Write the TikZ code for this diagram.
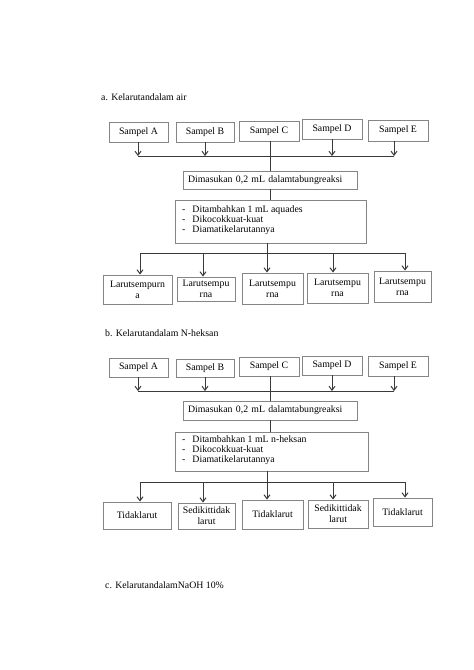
\documentclass[tikz,border=0pt]{standalone}
\usepackage{fontspec}
\setmainfont{Liberation Serif}
\usetikzlibrary{arrows.meta}
\definecolor{boxgray}{HTML}{858585}
\definecolor{linegray}{HTML}{3A3A3A}
\tikzset{
  sbox/.style={draw=boxgray, line width=0.9pt, inner sep=0pt, align=center, font=\fontsize{9.8}{11.2}\selectfont},
  lbox/.style={draw=boxgray, line width=0.9pt, inner xsep=5pt, inner ysep=0pt, align=left, font=\fontsize{9.8}{11.2}\selectfont},
  txt/.style={inner sep=0pt, font=\fontsize{9.8}{11.2}\selectfont},
  conn/.style={draw=linegray, line width=1pt},
  arr/.style={conn, -{Straight Barb[length=4pt,width=6pt]}},
}
\newcommand{\bx}[6]{% name, x1, y1, x2, y2, text
  \node[sbox, minimum width={#4-#2}, minimum height={#5-#3}] (#1) at ({(#2+#4)/2},{(#3+#5)/2}) {#6};}
\begin{document}
\begin{tikzpicture}[x=1pt,y=-1pt]
\useasboundingbox (0,0) rectangle (474,670);

% ---------------- Section a ----------------
\node[txt, anchor=west] (ta) at (101,97) {a. Kelarutandalam air};

\bx{aA}{109}{122}{168}{142}{Sampel A}
\bx{aB}{176}{122}{234}{142}{Sampel B}
\bx{aC}{239}{121}{299}{141}{Sampel C}
\bx{aD}{302}{119}{362}{139}{Sampel D}
\bx{aE}{368}{120}{428}{141}{Sampel E}

\node[lbox, minimum width=174pt, text width=164pt, minimum height=18pt] (aM) at (270,180) {Dimasukan 0,2 mL dalamtabungreaksi};
\node[draw=boxgray, line width=0.9pt, minimum width=191pt, minimum height=43pt, inner sep=0pt] (aS) at (270.5,221.5) {};
\node[txt, anchor=west, align=left] (aSt) at (182,220) {%
  \begin{tabular}{@{}l@{\hspace{7pt}}l@{}}
  - & Ditambahkan 1 mL aquades\\[-1.4pt]
  - & Dikocokkuat-kuat\\[-1.4pt]
  - & Diamatikelarutannya
  \end{tabular}};

\coordinate (aL1) at (138,156);
\coordinate (aL2) at (394,156);
\draw[conn] (aL1) -- (aL2);
\draw[arr] (aA.south -| aL1) -- (aL1);
\draw[arr] (aB.south) -- (aB.south |- aL1);
\draw[arr] (aD.south) -- (aD.south |- aL1);
\draw[arr] (aE.south -| aL2) -- (aL2);
\draw[conn] (aC.south -| aM.north) -- (aM.north);
\draw[conn] (aM.south) -- (aS.north -| aM.south);

\bx{a1}{103}{275}{172}{304}{Larutsempurn\\a}
\bx{a2}{177}{277}{235}{301}{Larutsempu\\rna}
\bx{a3}{242}{273}{303}{304}{Larutsempu\\rna}
\bx{a4}{307}{273}{368}{303}{Larutsempu\\rna}
\bx{a5}{374}{271}{431}{302}{Larutsempu\\rna}

\coordinate (ap1) at (140,253);
\coordinate (ap2) at (203,253);
\coordinate (ap3) at (267,253);
\coordinate (ap4) at (333,253);
\coordinate (ap5) at (405,253);
\draw[conn] (ap1) -- (ap5);
\draw[conn] (aS.south -| ap3) -- (ap3);
\draw[arr] (ap1) -- (ap1 |- a1.north);
\draw[arr] (ap2) -- (ap2 |- a2.north);
\draw[arr] (ap3) -- (ap3 |- a3.north);
\draw[arr] (ap4) -- (ap4 |- a4.north);
\draw[arr] (ap5) -- (ap5 |- a5.north);

% ---------------- Section b ----------------
\node[txt, anchor=west] (tb) at (105,333) {b. Kelarutandalam N-heksan};

\bx{bA}{109}{358}{168}{377}{Sampel A}
\bx{bB}{176}{359}{234}{377}{Sampel B}
\bx{bC}{239}{357}{299}{376}{Sampel C}
\bx{bD}{302}{356}{362}{375}{Sampel D}
\bx{bE}{368}{356}{428}{376}{Sampel E}

\node[lbox, minimum width=174pt, text width=164pt, minimum height=19pt] (bM) at (270,410.5) {Dimasukan 0,2 mL dalamtabungreaksi};
\node[draw=boxgray, line width=0.9pt, minimum width=193pt, minimum height=39pt, inner sep=0pt] (bS) at (271.5,451.5) {};
\node[txt, anchor=west, align=left] (bSt) at (182,450.5) {%
  \begin{tabular}{@{}l@{\hspace{7pt}}l@{}}
  - & Ditambahkan 1 mL n-heksan\\[-1.4pt]
  - & Dikocokkuat-kuat\\[-1.4pt]
  - & Diamatikelarutannya
  \end{tabular}};

\coordinate (bL1) at (138,391);
\coordinate (bL2) at (394,391);
\draw[conn] (bL1) -- (bL2);
\draw[arr] (bA.south -| bL1) -- (bL1);
\draw[arr] (bB.south) -- (bB.south |- bL1);
\draw[arr] (bD.south) -- (bD.south |- bL1);
\draw[arr] (bE.south -| bL2) -- (bL2);
\draw[conn] (bC.south -| bM.north) -- (bM.north);
\draw[conn] (bM.south) -- (bS.north -| bM.south);

\bx{b1}{103}{502}{171}{529}{Tidaklarut}
\bx{b2}{178}{503}{235}{529}{Sedikittidak\\larut}
\bx{b3}{242}{500}{303}{529}{Tidaklarut}
\bx{b4}{308}{500}{368}{528}{Sedikittidak\\larut}
\bx{b5}{373}{498}{432}{526}{Tidaklarut}

\coordinate (bp1) at (140,482);
\coordinate (bp2) at (203,482);
\coordinate (bp3) at (267,482);
\coordinate (bp4) at (333,482);
\coordinate (bp5) at (405,482);
\draw[conn] (bp1) -- (bp5);
\draw[conn] (bS.south -| bp3) -- (bp3);
\draw[arr] (bp1) -- (bp1 |- b1.north);
\draw[arr] (bp2) -- (bp2 |- b2.north);
\draw[arr] (bp3) -- (bp3 |- b3.north);
\draw[arr] (bp4) -- (bp4 |- b4.north);
\draw[arr] (bp5) -- (bp5 |- b5.north);

% ---------------- Section c ----------------
\node[txt, anchor=west] (tc) at (105,585) {c. KelarutandalamNaOH 10\%};
\end{tikzpicture}
\end{document}
